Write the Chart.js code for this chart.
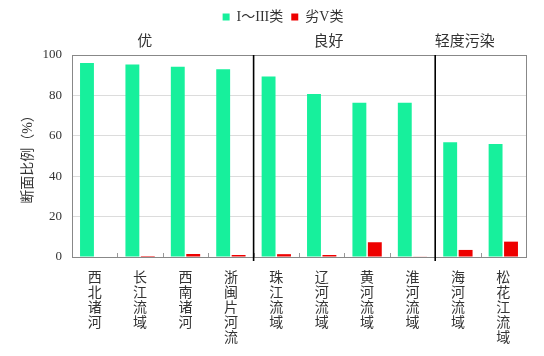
<!DOCTYPE html>
<html>
<head>
<meta charset="utf-8">
<script src="https://cdn.jsdelivr.net/npm/chart.js@4/dist/chart.umd.min.js"></script>
<style>
html,body{margin:0;padding:0;background:#fff;}
#wrap{width:544px;height:356px;position:relative;}
</style>
</head>
<body>
<div id="wrap"><canvas id="c" width="544" height="356"></canvas></div>
<script>
const categories = ['西北诸河','长江流域','西南诸河','浙闽片河流','珠江流域','辽河流域','黄河流域','淮河流域','海河流域','松花江流域'];
const gradeI_III = [96.1, 95.3, 94.2, 93.0, 89.3, 80.7, 76.4, 76.3, 56.8, 55.9];
const gradeBelowV = [0, 0.5, 1.5, 1.0, 1.4, 1.0, 7.3, 0.3, 3.5, 7.6];
const yTicks = [0, 20, 40, 60, 80, 100];
const groups = ['优', '良好', '轻度污染'];
const groupSpans = [[0, 3], [4, 7], [8, 9]];

const SERIF = "'Liberation Serif', 'Noto Sans CJK SC', serif";
const GREEN = '#17F09C';
const RED = '#EE0000';

const overlay = {
  id: 'overlay',
  afterInit(chart) {
    const lg = chart.legend;
    if (lg) {
      const orig = lg.fit;
      lg.fit = function () { orig.call(this); this.height += 21; };
    }
  },
  afterLayout(chart) {
    const lg = chart.legend;
    if (lg) { lg.left += 20; lg.right += 20; }
  },
  afterDatasetsDraw(chart) {
    const ctx = chart.ctx, a = chart.chartArea, xs = chart.scales.x;
    ctx.save();
    // small ticks at category boundaries
    ctx.strokeStyle = '#999'; ctx.lineWidth = 1;
    for (let i = 0; i < categories.length - 1; i++) {
      const x = Math.round((xs.getPixelForValue(i) + xs.getPixelForValue(i + 1)) / 2) + 0.5;
      ctx.beginPath(); ctx.moveTo(x, a.bottom); ctx.lineTo(x, a.bottom - 4); ctx.stroke();
    }
    // plot border
    ctx.strokeStyle = '#888'; ctx.lineWidth = 1;
    ctx.strokeRect(Math.round(a.left) + 0.5, Math.round(a.top) + 0.5, Math.round(a.right - a.left), Math.round(a.bottom - a.top));
    // group separators
    ctx.strokeStyle = '#000'; ctx.lineWidth = 1.6;
    for (let g = 0; g < groupSpans.length - 1; g++) {
      const i = groupSpans[g][1];
      const x = (xs.getPixelForValue(i) + xs.getPixelForValue(i + 1)) / 2;
      ctx.beginPath(); ctx.moveTo(x, a.top); ctx.lineTo(x, a.bottom + 4); ctx.stroke();
    }
    // group labels
    ctx.fillStyle = '#333';
    ctx.font = "15px " + SERIF;
    ctx.textAlign = 'center'; ctx.textBaseline = 'middle';
    const labelPos = [1.1, 5.15, 8.15];
    groups.forEach((g, k) => {
      ctx.fillText(g, xs.getPixelForValue(labelPos[k]), a.top - 13);
    });
    ctx.restore();
  }
};

new Chart(document.getElementById('c'), {
  type: 'bar',
  data: {
    labels: categories.map(s => s.split('')),
    datasets: [
      { label: 'I～III类', data: gradeI_III, backgroundColor: GREEN, barPercentage: 0.9, categoryPercentage: 0.68 },
      { label: '劣V类', data: gradeBelowV, backgroundColor: RED, barPercentage: 0.9, categoryPercentage: 0.68 }
    ]
  },
  options: {
    responsive: false,
    animation: false,
    devicePixelRatio: 1,
    layout: { padding: { top: 2, right: 18, bottom: 0, left: 0 } },
    plugins: {
      legend: {
        position: 'top',
        labels: {
          boxWidth: 7, boxHeight: 7, padding: 8,
          color: '#333',
          font: { family: SERIF, size: 14 }
        }
      },
      tooltip: { enabled: false }
    },
    scales: {
      x: {
        grid: { display: false },
        border: { display: false },
        ticks: {
          color: '#333', font: { family: SERIF, size: 14, lineHeight: 1.07 },
          maxRotation: 0, minRotation: 0, padding: 6, autoSkip: false
        },
        afterFit(s) { s.height = 99; }
      },
      y: {
        min: 0, max: 100,
        afterBuildTicks(s) { s.ticks = yTicks.map(v => ({ value: v })); },
        grid: { color: '#dcdcdc', drawTicks: false },
        border: { display: false },
        ticks: { color: '#333', font: { family: SERIF, size: 13 }, padding: 10 },
        title: { display: true, text: '断面比例（%）', color: '#333', font: { family: SERIF, size: 14 }, padding: { top: 20, bottom: 0 } },
        afterFit(s) { s.width = 72; }
      }
    }
  },
  plugins: [overlay]
});
</script>
</body>
</html>
